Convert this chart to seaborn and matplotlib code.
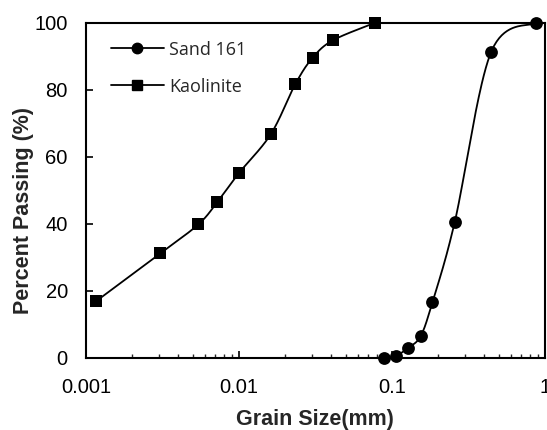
import numpy as np
import pandas as pd
import matplotlib
matplotlib.use("Agg")
import matplotlib.pyplot as plt
from matplotlib.lines import Line2D
import seaborn as sns

# ---- data ----
sand_size = [0.089, 0.106, 0.127, 0.154, 0.184, 0.258, 0.445, 0.877]
sand_pass = [0.0, 0.5, 2.9, 6.4, 16.5, 40.6, 91.2, 100.0]
kaol_size = [0.00116, 0.00307, 0.00543, 0.00724, 0.0100, 0.0162, 0.0234, 0.0304, 0.0413, 0.0777]
kaol_pass = [16.8, 31.2, 39.8, 46.5, 55.1, 66.8, 81.7, 89.6, 94.8, 100.0]
series_names = ["Sand 161", "Kaolinite"]
x_ticks = [0.001, 0.01, 0.1, 1]
x_ticklabels = ["0.001", "0.01", "0.1", "1"]
y_ticks = [0, 20, 40, 60, 80, 100]


def smooth_curve(xs, ys, n=40):
    """Excel-style smoothed line (Catmull-Rom Bezier) in log-x / linear-y space."""
    u = np.log10(np.asarray(xs, float))
    v = np.asarray(ys, float)
    P = np.column_stack([u, v])
    m = len(P)
    out = []
    t = np.linspace(0, 1, n)[:, None]
    for i in range(m - 1):
        p0 = P[max(i - 1, 0)]
        p1 = P[i]
        p2 = P[i + 1]
        p3 = P[min(i + 2, m - 1)]
        c1 = p1 + (p2 - p0) / 6.0
        c2 = p2 - (p3 - p1) / 6.0
        seg = ((1 - t) ** 3) * p1 + 3 * ((1 - t) ** 2) * t * c1 + 3 * (1 - t) * t ** 2 * c2 + t ** 3 * p2
        out.append(seg if i == 0 else seg[1:])
    pts = np.vstack(out)
    return 10 ** pts[:, 0], pts[:, 1]


sns.set_style("white")
plt.rcParams["font.family"] = ["Liberation Sans", "DejaVu Sans"]

fig = plt.figure(figsize=(5.47, 4.30), dpi=100)
ax = fig.add_axes([0.157, 0.168, 0.839, 0.779])

sx, sy = smooth_curve(sand_size, sand_pass)
kx, ky = smooth_curve(kaol_size, kaol_pass)

sns.lineplot(x=sx, y=sy, ax=ax, color="black", lw=1.3, sort=False, estimator=None)
sns.lineplot(x=kx, y=ky, ax=ax, color="black", lw=1.3, sort=False, estimator=None)
sns.scatterplot(x=sand_size, y=sand_pass, ax=ax, marker="o", s=85, color="black",
                edgecolor="black", linewidth=0, zorder=5, clip_on=False)
sns.scatterplot(x=kaol_size, y=kaol_pass, ax=ax, marker="s", s=85, color="black",
                edgecolor="black", linewidth=0, zorder=5, clip_on=False)

ax.set_xscale("log")
ax.set_xlim(0.001, 1)
ax.set_ylim(0, 100)
ax.set_xticks(x_ticks)
ax.set_xticklabels(x_ticklabels)
ax.set_yticks(y_ticks)
ax.xaxis.set_minor_locator(matplotlib.ticker.LogLocator(base=10, subs=np.arange(2, 10)))
ax.xaxis.set_minor_formatter(matplotlib.ticker.NullFormatter())

for s in ax.spines.values():
    s.set_linewidth(1.5)
    s.set_color("black")
    s.set_visible(True)

ax.tick_params(axis="both", which="major", direction="in", length=5, width=1.2,
               labelsize=14.5, colors="black")
ax.tick_params(axis="x", which="major", pad=14.5, bottom=True)
ax.tick_params(axis="y", which="major", pad=13, left=True)
ax.tick_params(axis="x", which="minor", direction="in", length=3, width=1.0,
               bottom=True)

ax.set_xlabel("Grain Size(mm)", fontsize=15.5, fontweight="bold", labelpad=9)
ax.set_ylabel("Percent Passing (%)", fontsize=15.5, fontweight="bold")
ax.yaxis.set_label_coords(-0.113, 0.44)

handles = [
    Line2D([], [], color="black", lw=1.3, marker="o", markersize=7.5),
    Line2D([], [], color="black", lw=1.3, marker="s", markersize=7.5),
]
ax.legend(handles, series_names, loc="upper left", bbox_to_anchor=(0.02, 0.995),
          frameon=False, handlelength=2.9, handletextpad=0.3, labelspacing=1.05,
          prop={"family": ["Open Sans", "DejaVu Sans"], "size": 13})

fig.text(0.0, 0.991, "r Soil", fontsize=13, style="italic",
         family=["Liberation Serif", "DejaVu Serif"], va="bottom", ha="left")

fig.savefig("out.png", dpi=100)
